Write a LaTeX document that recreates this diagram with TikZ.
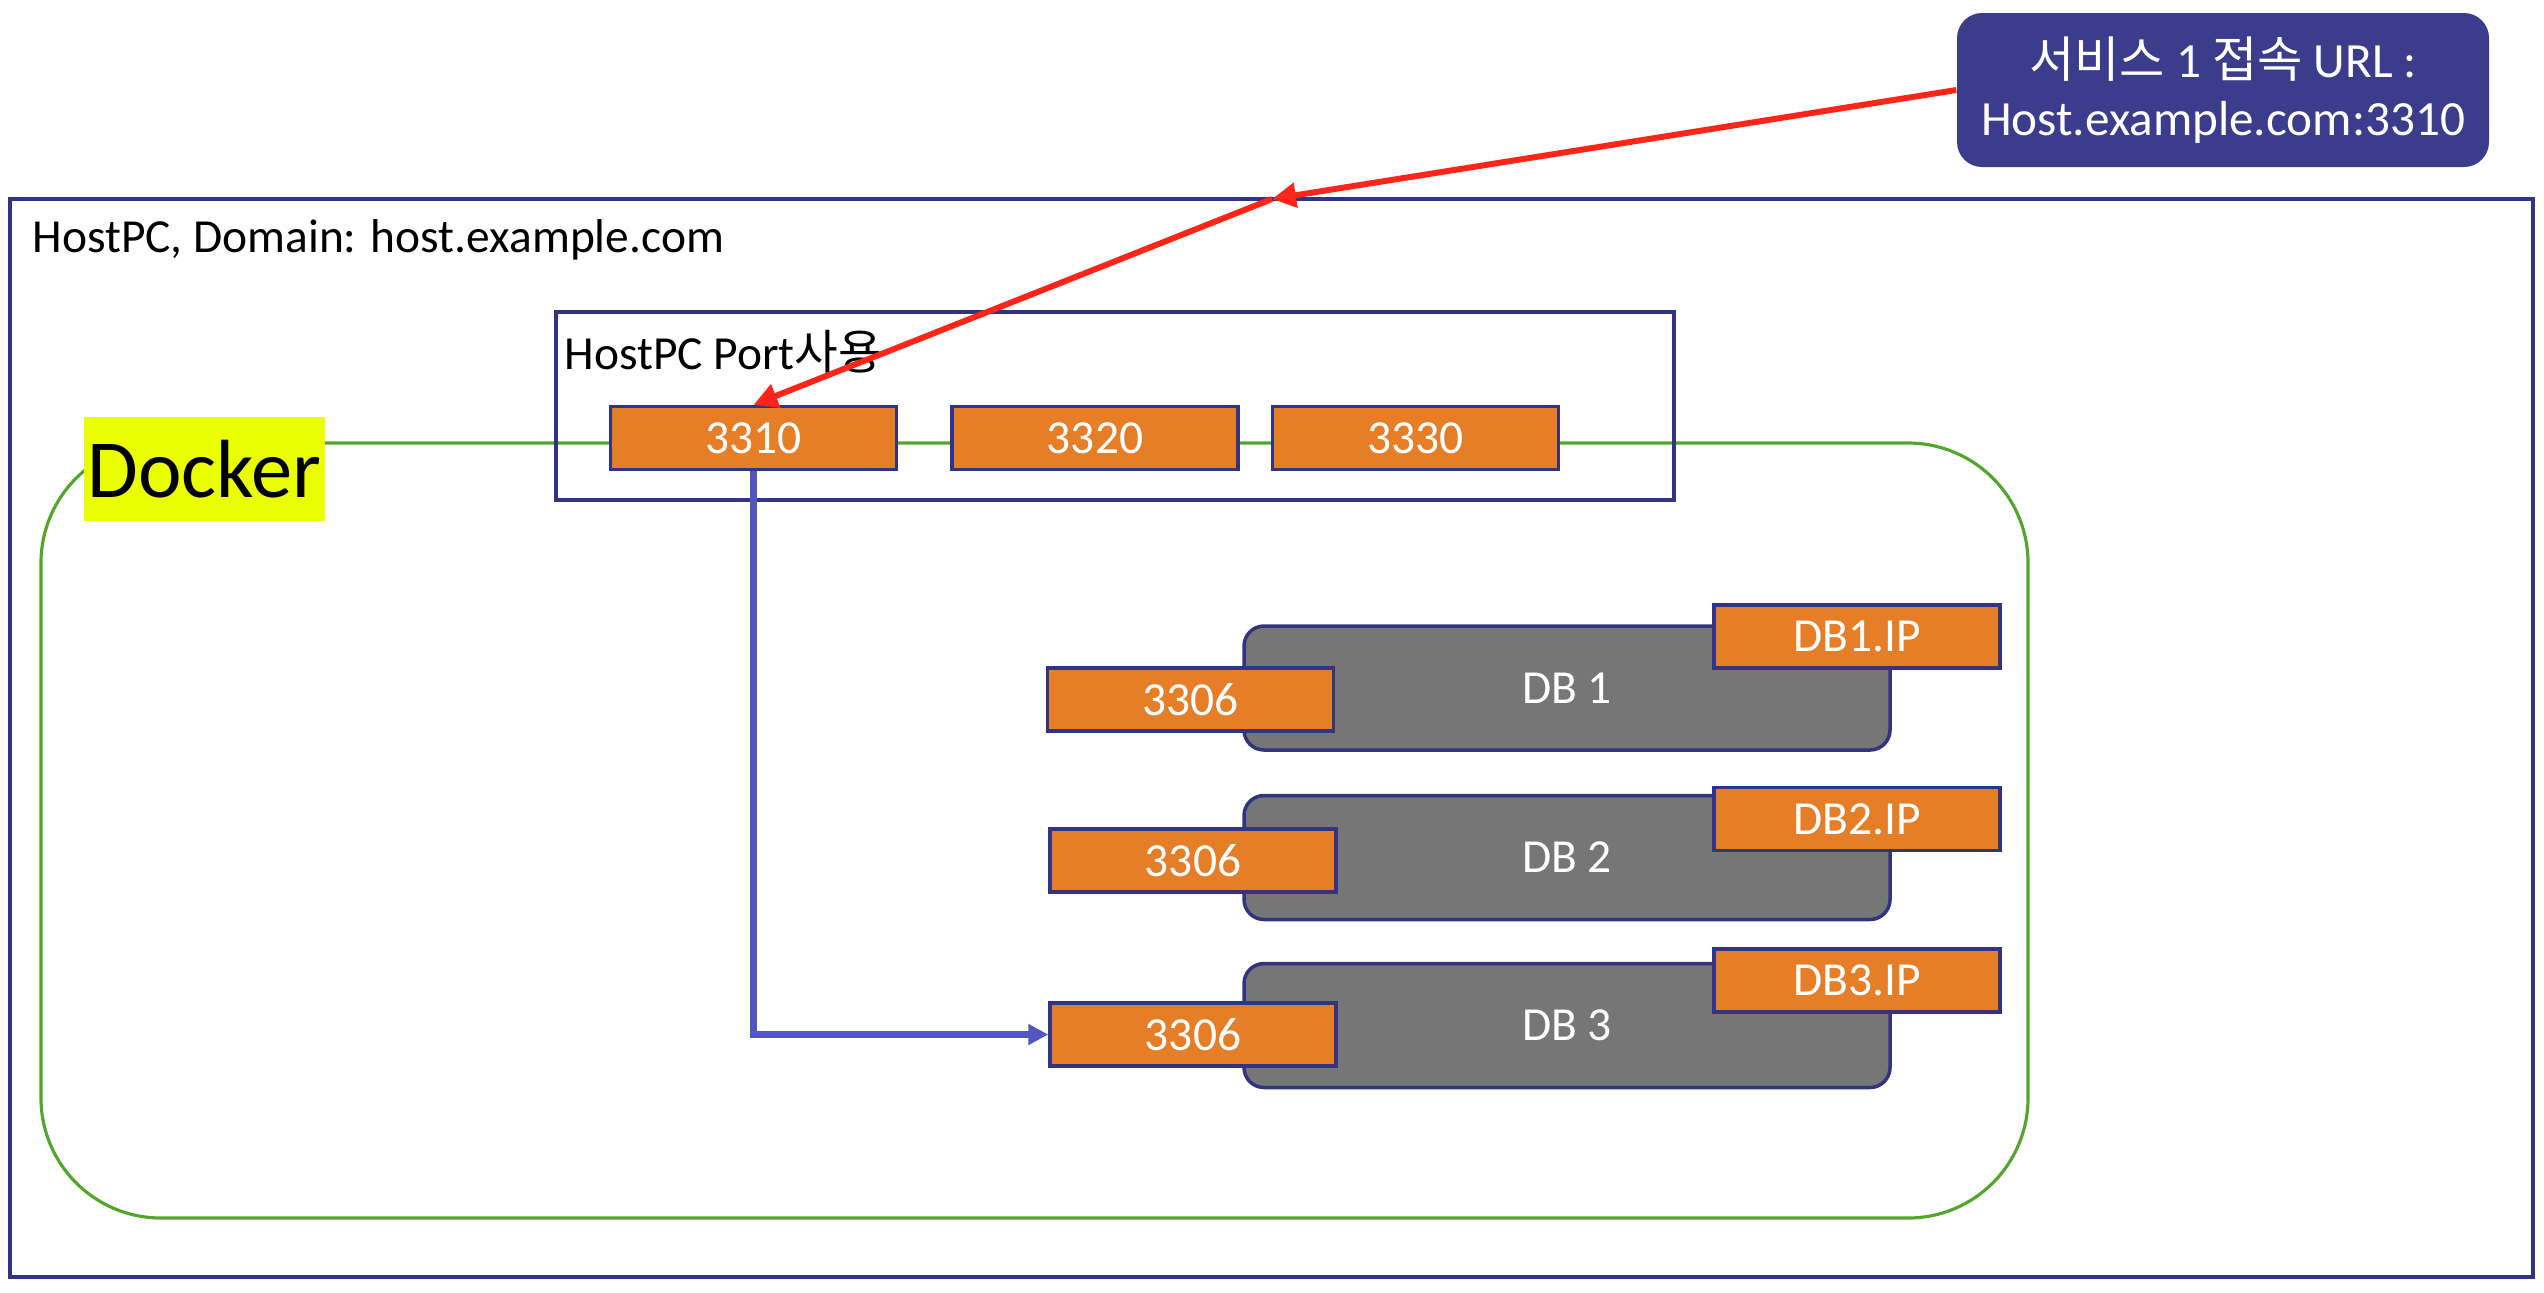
\documentclass[tikz,border=0pt]{standalone}
\usepackage{fontspec}
\setmainfont{Carlito}
\newfontfamily\cjk{Noto Sans CJK KR}
\usetikzlibrary{arrows.meta}

\definecolor{navy}{RGB}{50,52,130}
\definecolor{urlblue}{RGB}{59,61,140}
\definecolor{portorange}{RGB}{230,126,40}
\definecolor{dbgray}{RGB}{118,118,118}
\definecolor{dockergreen}{RGB}{82,166,46}
\definecolor{dockeryellow}{RGB}{234,255,0}
\definecolor{urlred}{RGB}{255,38,25}
\definecolor{linkblue}{RGB}{82,86,192}

\begin{document}
\begin{tikzpicture}[
    >={Triangle[length=0.24cm,width=0.24cm]},
    font=\fontsize{13.5}{16}\selectfont,
    frame/.style={draw=navy, line width=0.9pt},
    port/.style={draw=navy, line width=1pt, fill=portorange, text=white, minimum width=2.86cm, minimum height=0.63cm, inner sep=0},
    db/.style={draw=navy, line width=1pt, fill=dbgray, text=white, rounded corners=0.2cm, minimum width=6.46cm, minimum height=1.24cm},
    lab/.style={anchor=west, inner sep=0}
]
  \useasboundingbox (0,0) rectangle (25.44,-12.92);

  % HostPC
  \node[frame, minimum width=25.23cm, minimum height=10.78cm] (host) at (12.715,-7.38) {};
  \node[lab] (hosttitle) at (0.32,-2.40) {HostPC, Domain: host.example.com};

  % Docker
  \node[draw=dockergreen, line width=0.9pt, rounded corners=1.2cm, minimum width=19.87cm, minimum height=7.75cm] (docker) at (10.345,-8.305) {};
  \node[fill=dockeryellow, inner sep=0, minimum width=2.41cm, minimum height=1.04cm, font=\fontsize{23.5}{28}\selectfont] (dockerlab) at (2.045,-4.69) {Docker};

  % HostPC Port
  \node[frame, minimum width=11.18cm, minimum height=1.88cm] (hostport) at (11.15,-4.06) {};
  \node[lab] (hostportlab) at (5.64,-3.52) {HostPC Port{\cjk 사용}};
  \node[port] (p3310) at (7.535,-4.38) {3310};
  \node[port] (p3320) at (10.95,-4.38) {3320};
  \node[port] (p3330) at (14.155,-4.38) {3330};

  % DB
  \node[db] (db1) at (15.67,-6.88) {DB 1};
  \node[db] (db2) at (15.67,-8.575) {DB 2};
  \node[db] (db3) at (15.67,-10.255) {DB 3};
  \node[port] (port1) at (11.905,-6.995) {3306};
  \node[port] (port2) at (11.93,-8.605) {3306};
  \node[port] (port3) at (11.93,-10.345) {3306};
  \node[port] (ip1) at (18.57,-6.365) {DB1.IP};
  \node[port] (ip2) at (18.57,-8.19) {DB2.IP};
  \node[port] (ip3) at (18.57,-9.805) {DB3.IP};

  % URL
  \node[fill=urlblue, text=white, rounded corners=0.25cm, minimum width=5.32cm, minimum height=1.54cm, align=center, font=\fontsize{14}{16.5}\selectfont] (url) at (22.23,-0.90) {{\cjk 서비스} 1 {\cjk 접속} URL :\\Host.example.com:3310};

  % Conexiones
  \draw[->, linkblue, line width=1.8pt, >={Triangle[length=0.2cm,width=0.2cm]}] (p3310.south) |- (port3.west);
  \coordinate (entry) at (12.72,-1.99);
  \draw[->, urlred, line width=1.7pt] (url.west) -- (entry);
  \draw[->, urlred, line width=1.7pt] (entry) -- (p3310.north);

\end{tikzpicture}
\end{document}
